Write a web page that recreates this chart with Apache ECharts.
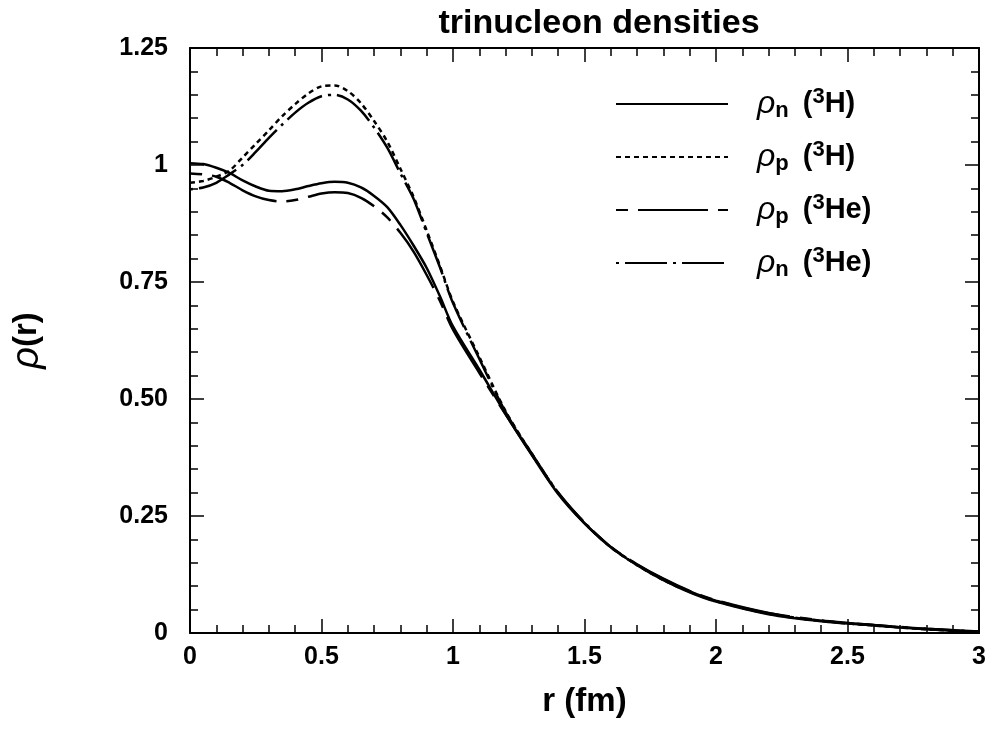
<!DOCTYPE html>
<html>
<head>
<meta charset="utf-8">
<script src="https://cdn.jsdelivr.net/npm/echarts@6/dist/echarts.min.js"></script>
<style>html,body{margin:0;padding:0;background:#fff;}#c{width:990px;height:729px;}</style>
</head>
<body>
<div id="c"></div>
<script>
// radius grid (fm)
var r = [0,0.05,0.1,0.15,0.2,0.25,0.3,0.35,0.4,0.45,0.5,0.55,0.6,0.65,0.7,0.75,0.8,0.85,0.9,0.95,1.0,1.1,1.2,1.3,1.4,1.5,1.6,1.7,1.8,1.9,2.0,2.2,2.4,2.6,2.8,3.0];
// rho_n (3H) - solid
var rhoN_H3 = [1.004,1.002,0.994,0.983,0.967,0.954,0.945,0.944,0.948,0.955,0.961,0.964,0.962,0.952,0.934,0.910,0.872,0.828,0.780,0.720,0.655,0.563,0.468,0.380,0.297,0.234,0.183,0.145,0.113,0.087,0.067,0.040,0.025,0.016,0.008,0.002];
// rho_p (3H) - dotted
var rhoP_H3 = [0.962,0.966,0.975,0.988,1.016,1.045,1.074,1.104,1.130,1.153,1.168,1.170,1.158,1.132,1.094,1.050,0.992,0.932,0.860,0.785,0.708,0.590,0.474,0.383,0.299,0.235,0.183,0.145,0.113,0.088,0.068,0.041,0.026,0.016,0.008,0.002];
// rho_p (3He) - long dash
var rhoP_He3 = [0.982,0.980,0.975,0.962,0.946,0.933,0.925,0.922,0.925,0.932,0.939,0.942,0.940,0.930,0.912,0.888,0.855,0.815,0.765,0.710,0.648,0.556,0.467,0.381,0.299,0.235,0.184,0.147,0.116,0.090,0.070,0.043,0.027,0.017,0.009,0.003];
// rho_n (3He) - dash-dot
var rhoN_He3 = [0.948,0.952,0.962,0.980,1.000,1.028,1.058,1.086,1.112,1.133,1.147,1.150,1.140,1.116,1.080,1.037,0.982,0.928,0.855,0.782,0.705,0.586,0.472,0.383,0.300,0.236,0.184,0.146,0.115,0.089,0.069,0.042,0.026,0.017,0.009,0.003];

var xTickLabels = ['0','0.5','1','1.5','2','2.5','3'];
var yTickLabels = ['0','0.25','0.50','0.75','1','1.25'];
var seriesNames = ['n_H3','p_H3','p_He3','n_He3'];

function pairs(v){ return r.map(function(x,i){ return [x, v[i]]; }); }

var FONT = 'Liberation Sans';
var tickStyle = { show:true, inside:true, length:14, lineStyle:{color:'#000', width:1.5} };
var minorStyle = { show:true, splitNumber:5, length:8, lineStyle:{color:'#000', width:1.5} };
var axisLine = { show:true, onZero:false, lineStyle:{color:'#000', width:2} };

var legendRich = {
  rho:{fontFamily:FONT, fontStyle:'italic', fontSize:32, color:'#000', verticalAlign:'middle', lineHeight:36},
  sub:{fontFamily:FONT, fontWeight:'bold', fontSize:22, color:'#000', verticalAlign:'bottom', lineHeight:36},
  sup:{fontFamily:FONT, fontWeight:'bold', fontSize:22, color:'#000', verticalAlign:'top', lineHeight:36},
  t:{fontFamily:FONT, fontWeight:'bold', fontSize:29, color:'#000', verticalAlign:'middle', lineHeight:36},
  g:{width:14}
};
var legendText = {
  'n_H3':'{rho|ρ}{sub|n}{g|}{t|(}{sup|3}{t|H)}',
  'p_H3':'{rho|ρ}{sub|p}{g|}{t|(}{sup|3}{t|H)}',
  'p_He3':'{rho|ρ}{sub|p}{g|}{t|(}{sup|3}{t|He)}',
  'n_He3':'{rho|ρ}{sub|n}{g|}{t|(}{sup|3}{t|He)}'
};

var chart = echarts.init(document.getElementById('c'), null, {renderer:'canvas'});
chart.setOption({
  animation:false,
  backgroundColor:'#fff',
  title:{
    text:'trinucleon densities', left:594, top:2, textAlign:'center',
    textStyle:{fontFamily:FONT, fontSize:34, fontWeight:'bold', color:'#000'}
  },
  grid:{left:190, right:11, top:48, bottom:96},
  legend:{
    orient:'vertical', left:610, top:81, itemWidth:112, itemHeight:14, itemGap:17,
    data:seriesNames,
    formatter:function(n){ return legendText[n]; },
    textStyle:{rich:legendRich, padding:[0,0,0,24]},
    itemStyle:{color:'transparent', borderColor:'transparent', borderWidth:0, opacity:0},
    selectedMode:false
  },
  xAxis:[{
    type:'value', min:0, max:3, interval:0.5, position:'bottom',
    axisLine:axisLine, axisTick:tickStyle, minorTick:minorStyle, splitLine:{show:false},
    axisLabel:{margin:12, fontFamily:FONT, fontWeight:'bold', fontSize:25, color:'#000',
      formatter:function(v){ return xTickLabels[Math.round(v/0.5)]; }},
    name:'r (fm)', nameLocation:'middle', nameGap:52,
    nameTextStyle:{fontFamily:FONT, fontSize:33, fontWeight:'bold', color:'#000'}
  },{
    type:'value', min:0, max:3, interval:0.5, position:'top',
    axisLine:axisLine, axisTick:tickStyle, minorTick:minorStyle, splitLine:{show:false},
    axisLabel:{show:false}
  }],
  yAxis:[{
    type:'value', min:0, max:1.25, interval:0.25, position:'left',
    axisLine:axisLine, axisTick:tickStyle, minorTick:minorStyle, splitLine:{show:false},
    axisLabel:{margin:22, fontFamily:FONT, fontWeight:'bold', fontSize:25, color:'#000',
      formatter:function(v){ return yTickLabels[Math.round(v/0.25)]; }},
    name:'{rho|ρ}{t|(r)}', nameLocation:'middle', nameGap:144, nameRotate:90,
    nameTextStyle:{rich:{
      rho:{fontFamily:FONT, fontStyle:'italic', fontSize:38, color:'#000'},
      t:{fontFamily:FONT, fontWeight:'bold', fontSize:33, color:'#000'}
    }}
  },{
    type:'value', min:0, max:1.25, interval:0.25, position:'right',
    axisLine:axisLine, axisTick:tickStyle, minorTick:minorStyle, splitLine:{show:false},
    axisLabel:{show:false}
  }],
  series:[
    {name:'n_H3', type:'line', data:pairs(rhoN_H3), smooth:0.3, symbol:'none', showSymbol:false,
      lineStyle:{color:'#000', width:2.5, type:'solid'}, itemStyle:{color:'#000'}},
    {name:'p_H3', type:'line', data:pairs(rhoP_H3), smooth:0.3, symbol:'none', showSymbol:false,
      lineStyle:{color:'#000', width:2.5, type:[5,4]}, itemStyle:{color:'#000'}},
    {name:'p_He3', type:'line', data:pairs(rhoP_He3), smooth:0.3, symbol:'none', showSymbol:false,
      lineStyle:{color:'#000', width:2.5, type:[12,10,70,10]}, itemStyle:{color:'#000'}},
    {name:'n_He3', type:'line', data:pairs(rhoN_He3), smooth:0.3, symbol:'none', showSymbol:false,
      lineStyle:{color:'#000', width:2.5, type:[3,6,42,6]}, itemStyle:{color:'#000'}}
  ]
});
</script>
</body>
</html>
